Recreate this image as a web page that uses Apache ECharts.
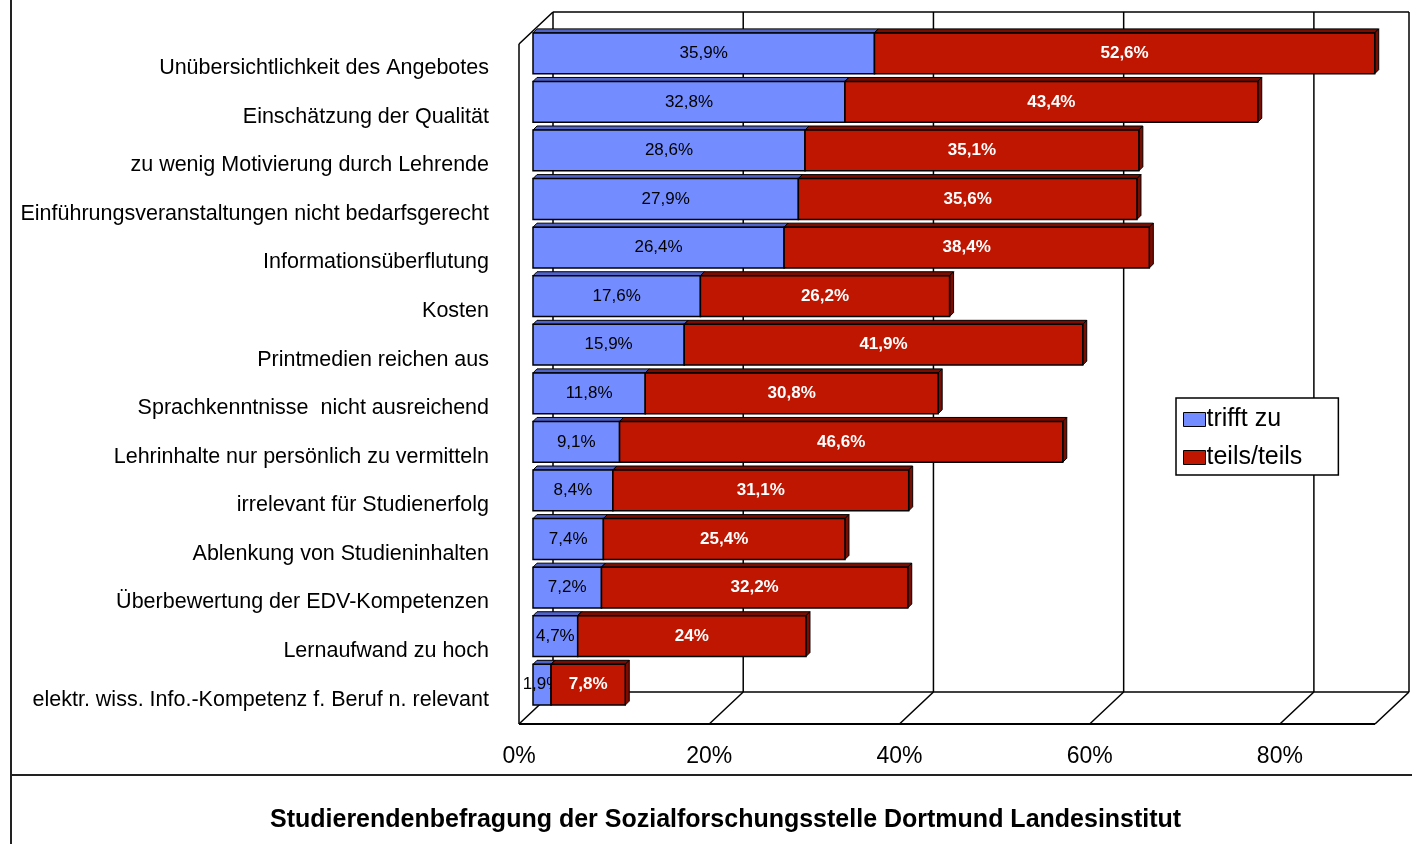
<!DOCTYPE html>
<html>
<head>
<meta charset="utf-8">
<script src="https://cdn.jsdelivr.net/npm/echarts@6/dist/echarts.min.js"></script>
<style>
  html, body { margin: 0; padding: 0; background: #fff; }
  #main { width: 1412px; height: 844px; }
</style>
</head>
<body>
<div id="main"></div>
<script>
// Kategorien (von oben nach unten)
var categories = [
    'Unübersichtlichkeit des Angebotes',
    'Einschätzung der Qualität',
    'zu wenig Motivierung durch Lehrende',
    'Einführungsveranstaltungen nicht bedarfsgerecht',
    'Informationsüberflutung',
    'Kosten',
    'Printmedien reichen aus',
    'Sprachkenntnisse  nicht ausreichend',
    'Lehrinhalte nur persönlich zu vermitteln',
    'irrelevant für Studienerfolg',
    'Ablenkung von Studieninhalten',
    'Überbewertung der EDV-Kompetenzen',
    'Lernaufwand zu hoch',
    'elektr. wiss. Info.-Kompetenz f. Beruf n. relevant'
];
var trifftZu = [35.9, 32.8, 28.6, 27.9, 26.4, 17.6, 15.9, 11.8, 9.1, 8.4, 7.4, 7.2, 4.7, 1.9];
var teilsTeils = [52.6, 43.4, 35.1, 35.6, 38.4, 26.2, 41.9, 30.8, 46.6, 31.1, 25.4, 32.2, 24, 7.8];
var seriesNames = ['trifft zu', 'teils/teils'];
var xTicks = [0, 20, 40, 60, 80];
var xMax = 90;

var FONT = '"Liberation Sans", Arial, sans-serif';
var blue = '#738CFF', blueTop = '#4F63C8';
var red = '#BE1600', redTop = '#7A0C00';
// 3D-Tiefe der Wände und Lage der Balken darin
var DX = 34, DY = -32;
var OX = 14, OY = -15, T = 4;

function fmt(v) {
    return String(v).replace('.', ',') + '%';
}

var blueData = [], redData = [];
for (var i = 0; i < categories.length; i++) {
    blueData.push([i, 0, trifftZu[i]]);
    redData.push([i, trifftZu[i], trifftZu[i] + teilsTeils[i]]);
}

function line(x1, y1, x2, y2, w) {
    return {
        type: 'line',
        shape: { x1: x1, y1: y1, x2: x2, y2: y2 },
        style: { stroke: '#000', lineWidth: w || 1.5 }
    };
}

function renderFrame(params, api) {
    var cs = params.coordSys;
    var top = cs.y, bottom = cs.y + cs.height;
    var x = api.coord([api.value(0), 0])[0];
    var children = [
        line(x + DX, top + DY, x + DX, bottom + DY),
        line(x, bottom, x + DX, bottom + DY)
    ];
    if (params.dataIndex === 0) {
        var xe = api.coord([xMax, 0])[0];
        children.push(line(x, top, x, bottom));
        children.push(line(x, top, x + DX, top + DY));
        children.push(line(x + DX, top + DY, xe + DX, top + DY));
        children.push(line(xe + DX, top + DY, xe + DX, bottom + DY));
        children.push(line(x, bottom, xe, bottom, 2));
        children.push(line(x + DX, bottom + DY, xe + DX, bottom + DY));
        children.push(line(xe, bottom, xe + DX, bottom + DY));
    }
    return { type: 'group', children: children };
}

function makeRender(front, topColor, textColor, bold) {
    return function (params, api) {
        var cat = api.value(0);
        var p0 = api.coord([api.value(1), cat]);
        var p1 = api.coord([api.value(2), cat]);
        var h = api.size([0, 1])[1] * 0.84;
        var x1 = p0[0] + OX, x2 = p1[0] + OX;
        var yc = p0[1] + OY, y0 = yc - h / 2, y1 = yc + h / 2;
        return {
            type: 'group',
            children: [
                {
                    type: 'polygon',
                    shape: { points: [[x1, y0], [x2, y0], [x2 + T, y0 - T], [x1 + T, y0 - T]] },
                    style: { fill: topColor, stroke: '#000', lineWidth: 1 }
                },
                {
                    type: 'polygon',
                    shape: { points: [[x2, y0], [x2 + T, y0 - T], [x2 + T, y1 - T], [x2, y1]] },
                    style: { fill: redTop, stroke: '#000', lineWidth: 1 }
                },
                {
                    type: 'rect',
                    shape: { x: x1, y: y0, width: x2 - x1, height: h },
                    style: { fill: front, stroke: '#000', lineWidth: 1.5 }
                },
                {
                    type: 'text',
                    x: (x1 + x2) / 2,
                    y: yc,
                    style: {
                        text: fmt(Math.round((api.value(2) - api.value(1)) * 10) / 10),
                        fill: textColor,
                        font: (bold ? 'bold ' : '') + '17px ' + FONT,
                        align: 'center',
                        verticalAlign: 'middle'
                    }
                }
            ]
        };
    };
}

var chart = echarts.init(document.getElementById('main'));

var option = {
    animation: false,
    backgroundColor: '#fff',
    title: {
        text: 'Studierendenbefragung der Sozialforschungsstelle Dortmund Landesinstitut',
        left: 265,
        top: 803,
        textStyle: {
            fontFamily: FONT,
            fontSize: 25,
            fontWeight: 'bold',
            color: '#000'
        }
    },
    legend: {
        data: seriesNames,
        orient: 'vertical',
        left: 1176,
        top: 398,
        backgroundColor: '#fff',
        borderColor: '#000',
        borderWidth: 1.5,
        borderRadius: 0,
        padding: [9, 36, 5, 7],
        itemWidth: 22,
        itemHeight: 14,
        itemGap: 13,
        icon: 'rect',
        itemStyle: { borderColor: '#000', borderWidth: 1 },
        textStyle: {
            fontFamily: FONT,
            fontSize: 25,
            color: '#000',
            padding: [0, 0, 0, -4]
        }
    },
    grid: {
        left: 519,
        right: 37,
        top: 44,
        bottom: 120
    },
    xAxis: {
        type: 'value',
        min: 0,
        max: xMax,
        interval: 20,
        axisLine: { show: false },
        axisTick: { show: false },
        splitLine: { show: false },
        axisLabel: {
            formatter: '{value}%',
            showMaxLabel: false,
            margin: 21,
            fontFamily: FONT,
            fontSize: 23,
            color: '#000'
        }
    },
    yAxis: {
        type: 'category',
        inverse: true,
        data: categories,
        axisLine: { show: false },
        axisTick: { show: false },
        axisLabel: {
            margin: 30,
            padding: [3, 0, 0, 0],
            fontFamily: FONT,
            fontSize: 21.5,
            color: '#000'
        }
    },
    graphic: [
        { type: 'line', shape: { x1: 11, y1: 0, x2: 11, y2: 844 }, style: { stroke: '#222', lineWidth: 2 } },
        { type: 'line', shape: { x1: 11, y1: 775, x2: 1412, y2: 775 }, style: { stroke: '#222', lineWidth: 2 } }
    ],
    series: [
        {
            type: 'custom',
            renderItem: renderFrame,
            data: xTicks.map(function (v) { return [v, 0]; }),
            encode: { x: 0, y: 1 },
            silent: true,
            z: 1
        },
        {
            name: seriesNames[0],
            type: 'custom',
            renderItem: makeRender(blue, blueTop, '#000', false),
            data: blueData,
            encode: { x: [1, 2], y: 0 },
            itemStyle: { color: blue },
            z: 3
        },
        {
            name: seriesNames[1],
            type: 'custom',
            renderItem: makeRender(red, redTop, '#fff', true),
            data: redData,
            encode: { x: [1, 2], y: 0 },
            itemStyle: { color: red },
            z: 3
        }
    ]
};

chart.setOption(option);
</script>
</body>
</html>
